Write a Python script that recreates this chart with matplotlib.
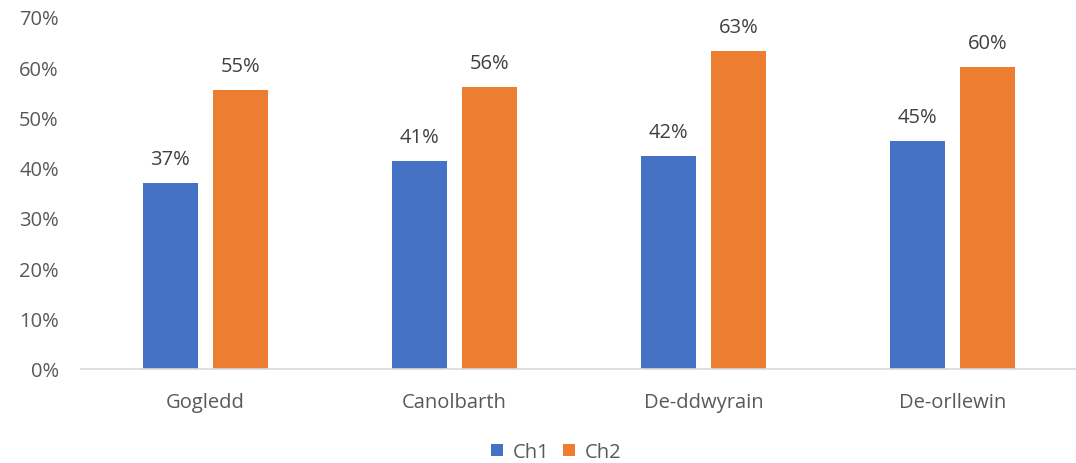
import matplotlib
matplotlib.use("Agg")
import matplotlib.pyplot as plt
import numpy as np

categories = ["Gogledd", "Canolbarth", "De-ddwyrain", "De-orllewin"]
ch1 = [36.9, 41.3, 42.3, 45.3]
ch2 = [55.4, 56.0, 63.3, 60.0]
series_names = ["Ch1", "Ch2"]
yticks = [0, 10, 20, 30, 40, 50, 60, 70]

plt.rcParams['font.family'] = ['Open Sans', 'DejaVu Sans']
text_color = "#595959"
blue = "#4472C4"
orange = "#ED7D31"
fs = 14.5

fig = plt.figure(figsize=(10.76, 4.64), dpi=100)
ax = fig.add_axes([81/1076, 94.5/464, 996/1076, (369.5-18)/464])

x = np.arange(len(categories))
w = 0.223
off = 0.141
b1 = ax.bar(x - off, ch1, w, color=blue, label=series_names[0])
b2 = ax.bar(x + off, ch2, w, color=orange, label=series_names[1])

for bars, vals in ((b1, ch1), (b2, ch2)):
    for rect, v in zip(bars, vals):
        ax.annotate(f"{v:.0f}%", (rect.get_x() + rect.get_width()/2, v),
                    xytext=(0, 10), textcoords="offset points",
                    ha="center", va="bottom", fontsize=fs, color="#404040")

ax.set_xlim(-0.5, len(categories) - 0.5)
ax.set_ylim(0, 70)
ax.set_yticks(yticks)
ax.set_yticklabels([f"{t}%" for t in yticks])
ax.set_xticks(x)
ax.set_xticklabels(categories)
ax.tick_params(axis='y', length=0, pad=16, labelsize=fs, labelcolor=text_color)
ax.tick_params(axis='x', length=0, pad=17, labelsize=fs, labelcolor=text_color)
for s in ("top", "right", "left"):
    ax.spines[s].set_visible(False)
ax.spines["bottom"].set_color("#D9D9D9")
ax.spines["bottom"].set_linewidth(1.2)

leg = fig.legend(loc="center", bbox_to_anchor=(556/1076, 11/464), ncol=2, frameon=False,
                 fontsize=fs, handlelength=0.6, handleheight=0.6, handletextpad=0.45,
                 columnspacing=0.7)
for t in leg.get_texts():
    t.set_color(text_color)

fig.savefig("out.png", dpi=100)
